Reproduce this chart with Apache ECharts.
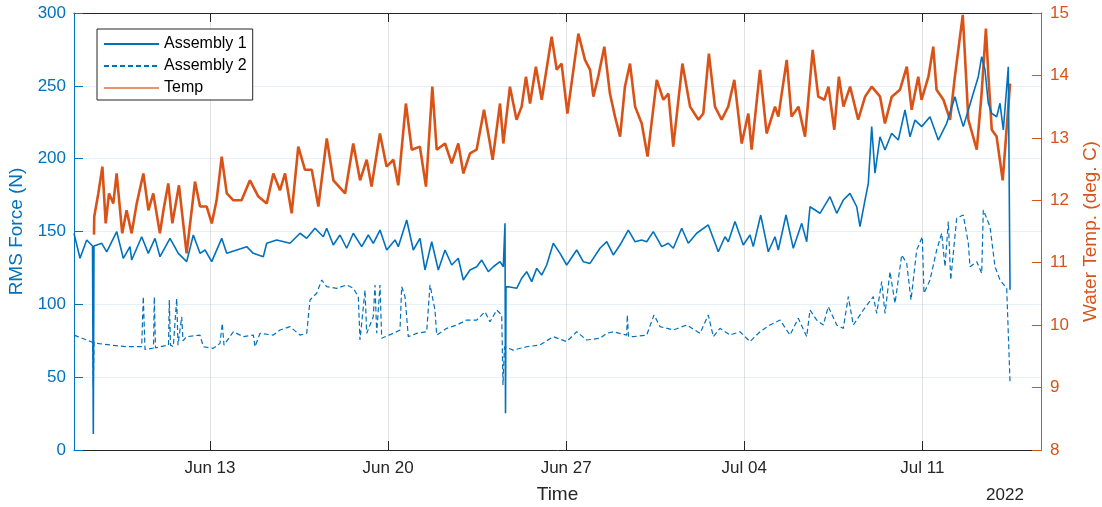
<!DOCTYPE html>
<html><head><meta charset="utf-8">
<script src="https://cdn.jsdelivr.net/npm/echarts@6/dist/echarts.min.js"></script>
<style>html,body{margin:0;padding:0;background:#fff}#c{width:1102px;height:507px}</style>
</head><body><div id="c"></div>
<script>
// time values are days since 2022-06-01 00:00 (Jun 13 = 12)
const tickDays = [12, 19, 26, 33, 40];
const tickLabels = ['Jun 13', 'Jun 20', 'Jun 27', 'Jul 04', 'Jul 11'];
const timeMin = 6.654, timeMax = 44.665;
const seriesNames = ['Assembly 1', 'Assembly 2', 'Temp'];

// [day, RMS force N]
const assembly1 = [[6.654,148.7],[6.890,131.6],[7.153,144.2],[7.381,140],[7.413,11],[7.440,140],[7.743,141.9],[7.940,136],[8.333,149.9],[8.592,131.6],
[8.855,139.6],[8.922,130.4],[9.315,146.4],[9.575,135],[9.838,145.3],[10.035,132.7],[10.428,145.3],[10.754,135],[11.084,129.3],[11.344,147.6],
[11.607,135],[11.804,137.3],[12.067,129.3],[12.460,145.3],[12.656,135],[13.050,137.3],[13.443,139.6],[13.702,135],[14.095,132.7],[14.229,141.9],
[14.622,144.2],[15.145,141.9],[15.538,148.8],[15.801,145.3],[16.127,152.2],[16.454,146.4],[16.587,152.2],[16.847,140.7],[17.110,147.6],[17.373,138.5],
[17.633,148.8],[17.963,139.6],[18.222,147.6],[18.419,141.9],[18.682,151],[18.946,137.3],[19.272,144.2],[19.402,139.6],[19.732,157.9],[19.991,137.3],
[20.255,145.3],[20.451,123.6],[20.715,143],[20.974,123.6],[21.238,137.3],[21.501,127],[21.760,131.6],[21.957,116.7],[22.220,123.6],[22.484,125.8],
[22.680,130.4],[22.940,122.4],[23.136,125.8],[23.399,129.3],[23.529,125.8],[23.596,155.6],[23.616,25.2],[23.635,112],[23.726,112.1],[24.056,111],
[24.252,117.9],[24.449,122.4],[24.645,115.6],[24.842,124.7],[25.038,120.1],[25.235,127],[25.494,141.9],[25.758,135],[26.021,127],[26.414,137.3],
[26.674,129.3],[26.937,128.1],[27.330,138.5],[27.594,143],[27.853,133.9],[28.116,140.7],[28.443,151],[28.706,143],[28.969,144.2],[29.166,143],
[29.425,149.9],[29.755,139.6],[30.015,141.9],[30.211,138.5],[30.542,152.2],[30.801,141.9],[31.131,148.8],[31.587,154.5],[31.980,136.1],[32.244,146.4],
[32.373,143],[32.637,156.8],[32.963,140.7],[33.226,147.6],[33.356,139.6],[33.647,161.3],[33.946,136.1],[34.209,146.4],[34.339,137.3],[34.642,161.3],
[34.928,138.5],[35.259,155.6],[35.455,143],[35.585,167],[35.978,162.5],[36.371,173.9],[36.634,162.5],[36.894,171.6],[37.157,176.2],[37.421,167],
[37.550,153.3],[37.747,171.6],[37.877,183],[38.010,222],[38.140,190],[38.336,215],[38.533,206],[38.796,217.4],[39.056,212.8],[39.319,233.4],
[39.516,215],[39.712,226.5],[39.976,222],[40.302,228.8],[40.628,212.8],[40.958,224.3],[41.285,242.5],[41.414,233.4],[41.611,222],[41.808,233.4],
[42.004,244.9],[42.200,256.3],[42.334,270],[42.464,260.9],[42.594,238],[42.727,231.1],[42.924,228.8],[43.053,238],[43.183,219.7],[43.380,263.1],
[43.447,110]];

const assembly2 = [[6.654,78.9],[7.153,75.5],[7.381,74],[7.413,43.5],[7.440,74],[7.546,73.2],[8.069,72.1],[8.726,70.9],[9.315,70.9],[9.378,105.3],
[9.445,69],[9.779,70],[9.811,105],[9.858,70],[10.035,70.9],[10.369,72],[10.400,103],[10.447,72],[10.557,71],[10.691,104],
[10.742,72],[10.888,91.5],[10.939,75],[11.084,77.8],[11.607,78.9],[11.737,70.9],[12.130,69.8],[12.393,73.2],[12.483,87],[12.550,72],
[12.916,81.2],[13.309,77.8],[13.702,78.9],[13.769,70.9],[13.965,80.1],[14.488,78.9],[14.752,82.4],[15.145,84.7],[15.538,78.9],[15.801,80.1],
[15.931,103],[16.194,107.6],[16.391,116.7],[16.587,112.1],[16.980,111],[17.373,113.3],[17.633,111],[17.829,105.3],[17.896,75.5],[18.093,109.8],
[18.160,80.1],[18.419,91.5],[18.486,113.3],[18.553,80.1],[18.682,113.3],[18.749,76.7],[19.205,80.1],[19.469,82.4],[19.535,112.1],[19.665,105.3],
[19.795,77.8],[20.125,80.1],[20.518,81.2],[20.648,113.3],[20.844,96.1],[20.911,78.9],[21.304,83.5],[21.697,85.8],[22.090,89.2],[22.484,89.2],
[22.810,94.9],[23.006,88],[23.270,96.1],[23.466,92.7],[23.517,44.6],[23.576,70.9],[23.922,68.6],[24.449,70.9],[24.972,72.1],[25.494,77.8],
[26.021,74.4],[26.414,81.2],[26.807,75.5],[27.330,76.7],[27.594,80.1],[27.853,81.2],[28.380,78.9],[28.403,92.7],[28.450,78],[28.639,77.8],
[29.166,78.9],[29.453,92.7],[29.689,84.7],[30.211,82.4],[30.738,85.8],[31.261,80.1],[31.587,92.7],[31.784,77.8],[32.047,83.5],[32.440,78.9],
[32.834,81.2],[33.226,74.4],[33.619,81.2],[34.013,85.8],[34.406,89.2],[34.799,78.9],[35.125,90.4],[35.455,77.8],[35.585,96.1],[35.848,89.2],
[36.108,85.8],[36.304,98.4],[36.634,85.8],[36.894,83.5],[37.090,105.3],[37.287,85.8],[37.680,96.1],[38.073,105.3],[38.207,93.8],[38.403,115.6],
[38.533,93.8],[38.730,122.4],[38.926,100.7],[39.190,133.9],[39.386,128.2],[39.555,103],[39.779,137.3],[39.999,146.4],[40.066,107.6],[40.302,116.7],
[40.565,137.3],[40.762,148.8],[40.892,125.8],[41.021,156.8],[41.116,116.7],[41.351,159.1],[41.611,161.3],[41.808,141.9],[41.874,125.8],[42.138,129.3],
[42.334,121.3],[42.397,164.8],[42.661,153.3],[42.857,125.8],[43.053,116.7],[43.317,111],[43.447,46.9]];

// [day, water temperature deg C]
const temp = [[7.44,11.45],[7.45,11.74],[7.61,12.11],[7.77,12.54],[7.90,11.63],[8.03,12.11],[8.20,11.95],[8.33,12.43],[8.55,11.47],[8.72,11.84],
[8.92,11.47],[9.12,11.95],[9.38,12.43],[9.58,11.84],[9.77,12.11],[10.03,11.47],[10.17,11.84],[10.36,12.27],[10.52,11.63],[10.78,12.24],
[11.08,11.15],[11.28,11.84],[11.41,12.30],[11.61,11.90],[11.87,11.90],[12.07,11.63],[12.26,12.00],[12.46,12.70],[12.66,12.11],[12.92,12.00],
[13.24,12.00],[13.57,12.32],[13.90,12.06],[14.23,11.95],[14.49,12.43],[14.75,12.16],[14.95,12.43],[15.21,11.79],[15.47,12.86],[15.73,12.49],
[16.00,12.49],[16.26,11.90],[16.59,12.99],[16.85,12.32],[17.31,12.11],[17.63,12.91],[17.90,12.32],[18.16,12.65],[18.35,12.22],[18.68,13.07],
[18.94,12.54],[19.21,12.65],[19.40,12.24],[19.70,13.55],[19.93,12.81],[20.25,12.86],[20.49,12.22],[20.74,13.82],[20.91,12.81],[21.24,12.91],
[21.50,12.59],[21.76,12.91],[21.96,12.43],[22.22,12.75],[22.48,12.81],[22.77,13.45],[22.98,12.97],[23.11,12.65],[23.40,13.55],[23.53,12.91],
[23.79,13.82],[24.05,13.29],[24.25,13.50],[24.42,13.98],[24.58,13.55],[24.81,14.14],[25.04,13.61],[25.43,14.62],[25.63,14.09],[25.82,14.19],
[26.05,13.39],[26.48,14.67],[26.74,14.25],[26.94,14.09],[27.07,13.66],[27.26,13.98],[27.50,14.46],[27.72,13.71],[27.92,13.34],[28.12,13.02],
[28.31,13.82],[28.51,14.19],[28.71,13.50],[28.97,13.23],[29.20,12.70],[29.56,13.93],[29.82,13.61],[30.02,13.71],[30.21,12.86],[30.57,14.19],
[30.87,13.50],[31.20,13.29],[31.39,13.39],[31.61,14.35],[31.85,13.50],[32.11,13.29],[32.37,13.50],[32.61,13.93],[32.90,12.91],[33.16,13.39],
[33.29,12.81],[33.62,14.09],[33.88,13.07],[34.21,13.50],[34.34,13.34],[34.67,14.25],[34.86,13.34],[35.13,13.50],[35.39,13.02],[35.69,14.41],
[35.91,13.66],[36.15,13.61],[36.31,13.82],[36.54,13.13],[36.72,13.98],[36.90,13.50],[37.16,13.82],[37.48,13.29],[37.75,13.66],[38.01,13.82],
[38.34,13.66],[38.53,13.23],[38.80,13.66],[39.12,13.77],[39.39,14.14],[39.58,13.45],[39.84,13.98],[39.97,13.61],[40.24,13.98],[40.43,14.46],
[40.56,13.77],[40.83,13.61],[41.09,13.29],[41.28,13.98],[41.59,14.97],[41.81,13.29],[42.14,12.81],[42.33,13.71],[42.50,14.75],[42.60,13.98],
[42.73,13.13],[42.92,13.02],[43.16,12.32],[43.32,13.18],[43.45,13.87]];

const FONT = "'Liberation Sans', Arial, Helvetica, sans-serif";
const BLUE = '#0072BD', ORANGE = '#D95319', DARK = '#262626';

const chart = echarts.init(document.getElementById('c'), null, {renderer: 'canvas'});
const option = {
  animation: false,
  backgroundColor: '#fff',
  textStyle: {fontFamily: FONT},
  grid: {left: 74, right: 61, top: 13, bottom: 57, outerBoundsMode: 'none'},
  legend: {
    data: [
      {name: seriesNames[0]},
      {name: seriesNames[1]},
      {name: seriesNames[2], lineStyle: {width: 2, color: '#E8936A'}}
    ],
    orient: 'vertical', left: 97, top: 29,
    itemWidth: 55, itemHeight: 2, itemGap: 4, padding: [6, 6, 3, 6],
    itemStyle: {opacity: 0},
    borderColor: DARK, borderWidth: 1, borderRadius: 0, backgroundColor: '#fff',
    textStyle: {color: '#000', fontSize: 16, lineHeight: 18, fontFamily: FONT}
  },
  graphic: [{
    type: 'text', x: 1005, y: 495, z: 10,
    style: {text: '2022', fill: DARK, font: "17px 'Liberation Sans', Arial, sans-serif", align: 'center', verticalAlign: 'middle'}
  }],
  xAxis: [{
    type: 'value', min: timeMin, max: timeMax, position: 'bottom',
    name: 'Time', nameLocation: 'middle', nameGap: 35,
    nameTextStyle: {color: DARK, fontSize: 19, fontFamily: FONT},
    axisLine: {show: true, onZero: false, lineStyle: {color: DARK, width: 1}},
    axisTick: {show: true, inside: true, length: 9, customValues: tickDays, lineStyle: {color: DARK}},
    axisLabel: {customValues: tickDays, formatter: v => { const i = tickDays.indexOf(v); return i >= 0 ? tickLabels[i] : ''; },
      color: DARK, fontSize: 17, margin: 10, fontFamily: FONT},
    splitLine: {show: true, lineStyle: {color: 'rgba(38,38,38,0.13)', width: 1}}
  }, {
    type: 'value', min: timeMin, max: timeMax, position: 'top',
    axisLine: {show: true, onZero: false, lineStyle: {color: DARK, width: 1}},
    axisTick: {show: true, inside: true, length: 9, customValues: tickDays, lineStyle: {color: DARK}},
    axisLabel: {show: false},
    splitLine: {show: false}
  }],
  yAxis: [{
    type: 'value', min: 0, max: 300, interval: 50, position: 'left',
    name: 'RMS Force (N)', nameLocation: 'middle', nameGap: 47,
    nameTextStyle: {color: BLUE, fontSize: 19, fontFamily: FONT},
    axisLine: {show: true, onZero: false, lineStyle: {color: BLUE, width: 1}},
    axisTick: {show: true, inside: true, length: 9, lineStyle: {color: BLUE}},
    axisLabel: {color: BLUE, fontSize: 17, margin: 8, fontFamily: FONT},
    splitLine: {show: true, lineStyle: {color: 'rgba(0,114,189,0.1)', width: 1}}
  }, {
    type: 'value', min: 8, max: 15, interval: 1, position: 'right',
    name: 'Water Temp. (deg. C)', nameLocation: 'middle', nameGap: 40,
    nameTextStyle: {color: ORANGE, fontSize: 19, fontFamily: FONT},
    axisLine: {show: true, onZero: false, lineStyle: {color: ORANGE, width: 1}},
    axisTick: {show: true, inside: true, length: 9, lineStyle: {color: ORANGE}},
    axisLabel: {color: ORANGE, fontSize: 17, margin: 9, fontFamily: FONT},
    splitLine: {show: false}
  }],
  series: [{
    name: seriesNames[0], type: 'line', xAxisIndex: 0, yAxisIndex: 0, data: assembly1,
    symbol: 'none', showSymbol: false, z: 4,
    lineStyle: {color: BLUE, width: 1.6}, itemStyle: {color: BLUE}
  }, {
    name: seriesNames[1], type: 'line', xAxisIndex: 0, yAxisIndex: 0, data: assembly2,
    symbol: 'none', showSymbol: false, z: 4,
    lineStyle: {color: BLUE, width: 1.2, type: [5, 3]}, itemStyle: {color: BLUE}
  }, {
    name: seriesNames[2], type: 'line', xAxisIndex: 0, yAxisIndex: 1, data: temp,
    symbol: 'none', showSymbol: false, z: 3,
    lineStyle: {color: ORANGE, width: 2.6, join: 'bevel'}, itemStyle: {color: ORANGE}
  }]
};
chart.setOption(option);
</script>
</body></html>
